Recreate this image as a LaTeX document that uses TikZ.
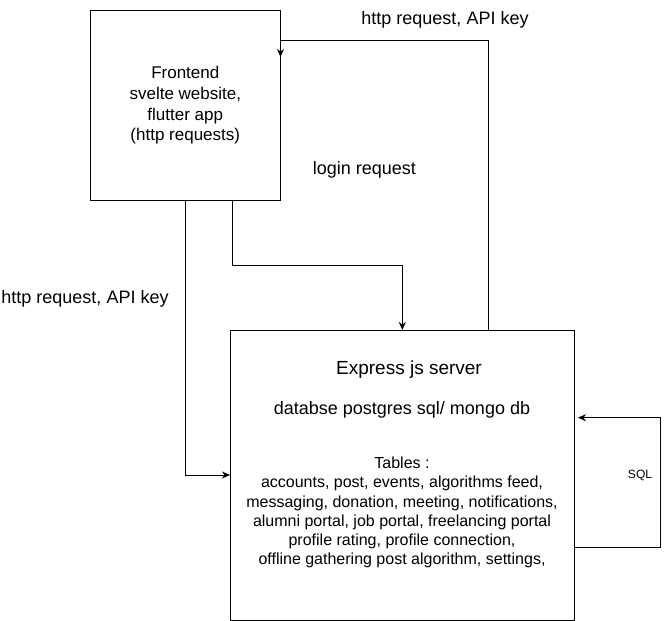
\documentclass[tikz,border=0pt]{standalone}
\usepackage{fontspec}
\setmainfont{Liberation Sans}
\usetikzlibrary{arrows.meta}

\newcommand{\labelsize}{\fontsize{18}{21}\selectfont}
\newcommand{\boxsize}{\fontsize{17}{20.7}\selectfont}
\newcommand{\titlesize}{\fontsize{19}{22}\selectfont}
\newcommand{\dbsize}{\fontsize{18}{21}\selectfont}
\newcommand{\tablesize}{\fontsize{16}{19.2}\selectfont}

\tikzset{
  block/.style={draw, line width=1pt, inner sep=0pt, align=center},
  flow/.style={line width=1pt, -{Stealth[length=8pt,width=7pt]}},
  txt/.style={inner sep=0pt, align=center}
}

\begin{document}
\begin{tikzpicture}[x=1pt, y=-1pt]
\useasboundingbox (0,0) rectangle (670,621);

\node [block, minimum width=190pt, minimum height=190pt, font=\boxsize] (frontend) at (185.3,105.3)
  {Frontend\\svelte website,\\flutter app\\(http requests)};
\node [block, minimum width=344pt, minimum height=290pt] (server) at (402,475) {};

\node [txt, font=\titlesize] (title) at (409,370) {Express js server};
\node [txt, font=\dbsize] (dbline) at (402,410) {databse postgres sql/ mongo db};
\node [txt, font=\tablesize, anchor=north] (tables) at (402,457)
  {Tables :\\accounts, post, events, algorithms feed,\\messaging, donation, meeting, notifications,\\alumni portal, job portal, freelancing portal\\profile rating, profile connection,\\offline gathering post algorithm, settings,};

\node [txt, font=\labelsize] (toplabel) at (445,20) {http request, API key};
\node [txt, font=\labelsize] (loginlabel) at (364.5,170) {login request};
\node [txt, font=\labelsize] (leftlabel) at (85,299) {http request, API key};
\node [txt, font=\fontsize{12}{14}\selectfont] (sqllabel) at (640,475) {SQL};

  \coordinate (A1) at (488.3,330);
  \coordinate (A2) at (488.3,40.3);
  \coordinate (A3) at (280.5,40.3);
  \coordinate (A4) at (280.5,57);

  \coordinate (L1) at (232.7,200.3);
  \coordinate (L2) at (232.7,265.3);
  \coordinate (L3) at (402.3,265.3);
  \coordinate (L4) at (402.3,330);

  \coordinate (H1) at (185.7,200.3);
  \coordinate (H2) at (185.7,475);
  \coordinate (H3) at (230,475);

  \coordinate (Q1) at (574,547.7);
  \coordinate (Q2) at (660.3,547.7);
  \coordinate (Q3) at (660.3,417.7);
  \coordinate (Q4) at (578,417.7);

\draw [flow] (A1) -- (A2) -- (A3) -- (A4);
\draw [flow] (L1) -- (L2) -- (L3) -- (L4);
\draw [flow] (H1) -- (H2) -- (H3);
\draw [flow] (Q1) -- (Q2) -- (Q3) -- (Q4);

\end{tikzpicture}
\end{document}
